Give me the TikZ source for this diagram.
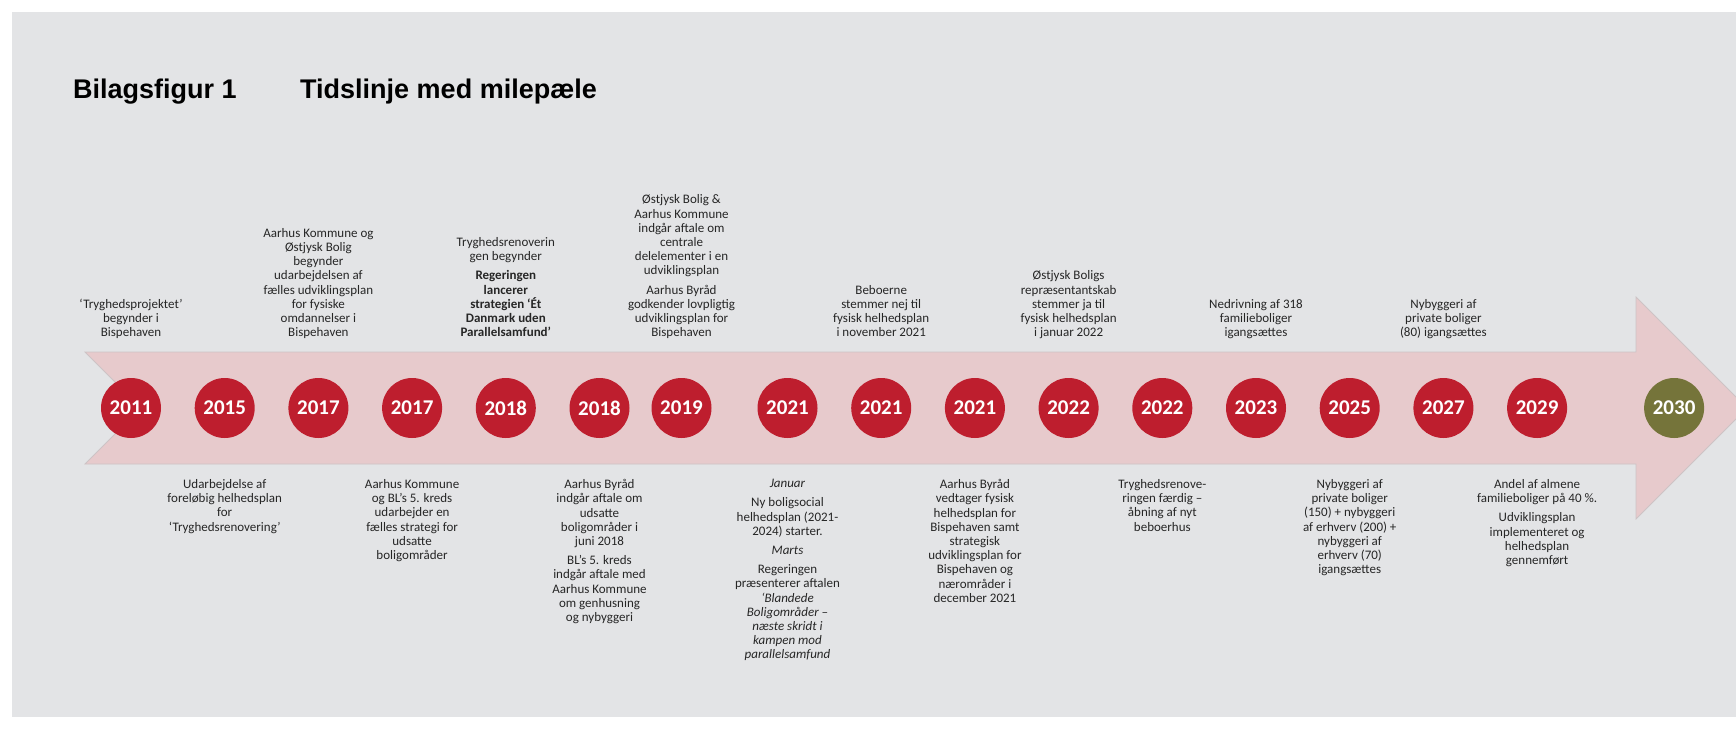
\documentclass[tikz,border=0pt]{standalone}
\usepackage{fontspec}
\setmainfont{Carlito}
\newfontfamily\titlefont{Liberation Sans}
\usetikzlibrary{shapes,arrows,positioning}
\definecolor{bggrey}{RGB}{227,228,230}
\definecolor{arrowpink}{RGB}{231,202,204}
\definecolor{arrowedge}{RGB}{205,195,197}
\definecolor{milered}{RGB}{190,30,46}
\definecolor{mileolive}{RGB}{117,116,58}
\definecolor{notegrey}{RGB}{38,38,38}
\tikzstyle{year} = [circle, fill=milered, text=white, minimum size=60pt,
    inner sep=0pt, font=\fontsize{21}{21}\selectfont\bfseries]
\tikzstyle{lastyear} = [year, fill=mileolive]
\tikzstyle{note} = [align=center, inner sep=0pt, text=notegrey,
    font=\fontsize{13}{14.2}\selectfont]
\tikzstyle{upnote} = [note, text depth=3pt]
\tikzstyle{figtitle} = [anchor=base west, inner sep=0pt, text=black,
    font=\titlefont\bfseries\fontsize{27}{27}\selectfont]

\begin{document}
\begin{tikzpicture}[x=1pt, y=-1pt, node distance=93.7pt]
    \useasboundingbox (0,0) rectangle (1736,728);
    \clip (0,0) rectangle (1736,728);
    \fill [bggrey] (12,12) rectangle (1736,717);

    \node [figtitle] (fig) at (73,98) {Bilagsfigur 1};
    \node [figtitle] (head) at (300,98) {Tidslinje med milepæle};

    % the time arrow
    \draw [fill=arrowpink, draw=arrowedge, line width=0.8pt] (85,352) -- (1636,352) -- (1636,297)
        -- (1747,408) -- (1636,519) -- (1636,464) -- (85,464) -- (141,408) -- cycle;

    \node [year] (y2011) at (131,408) {2011};
    \node [year, right of=y2011] (y2015) {2015};
    \node [year, right of=y2015] (y2017a) {2017};
    \node [year, right of=y2017a] (y2017b) {2017};
    \node [year, right of=y2017b] (y2018a) {2018};
    \node [year, right of=y2018a] (y2018b) {2018};
    \node [year, right of=y2018b, node distance=82pt] (y2019) {2019};
    \node [year, right of=y2019, node distance=106pt] (y2021a) {2021};
    \node [year, right of=y2021a] (y2021b) {2021};
    \node [year, right of=y2021b] (y2021c) {2021};
    \node [year, right of=y2021c] (y2022a) {2022};
    \node [year, right of=y2022a] (y2022b) {2022};
    \node [year, right of=y2022b] (y2023) {2023};
    \node [year, right of=y2023] (y2025) {2025};
    \node [year, right of=y2025] (y2027) {2027};
    \node [year, right of=y2027] (y2029) {2029};
    \node [lastyear, right of=y2029, node distance=137pt] (y2030) {2030};

    % notes above the arrow
    \node [upnote, above=38pt of y2011] (n2011) {‘Tryghedsprojektet’\\ begynder i\\ Bispehaven};
    \node [upnote, above=38pt of y2017a] (n2017a) {Aarhus Kommune og\\ Østjysk Bolig\\ begynder\\
        udarbejdelsen af\\ fælles udviklingsplan\\ for fysiske\\ omdannelser i\\ Bispehaven};
    \node [upnote, above=38pt of y2018a] (n2018a) {Tryghedsrenoverin\\ gen begynder\\[5pt]
        \textbf{Regeringen}\\ \textbf{lancerer}\\ \textbf{strategien ‘Ét}\\ \textbf{Danmark uden}\\
        \textbf{Parallelsamfund’}};
    \node [upnote, above=38pt of y2019] (n2019) {Østjysk Bolig \&\\ Aarhus Kommune\\ indgår aftale om\\
        centrale\\ delelementer i en\\ udviklingsplan\\[5pt] Aarhus Byråd\\ godkender lovpligtig\\
        udviklingsplan for\\ Bispehaven};
    \node [upnote, above=38pt of y2021b] (n2021b) {Beboerne\\ stemmer nej til\\ fysisk helhedsplan\\
        i november 2021};
    \node [upnote, above=38pt of y2022a] (n2022a) {Østjysk Boligs\\ repræsentantskab\\ stemmer ja til\\
        fysisk helhedsplan\\ i januar 2022};
    \node [upnote, above=38pt of y2023] (n2023) {Nedrivning af 318\\ familieboliger\\ igangsættes};
    \node [upnote, above=38pt of y2027] (n2027) {Nybyggeri af\\ private boliger\\ (80) igangsættes};

    % notes below the arrow
    \node [note, below=41pt of y2015] (n2015) {Udarbejdelse af\\ foreløbig helhedsplan\\ for\\
        ‘Tryghedsrenovering’};
    \node [note, below=41pt of y2017b] (n2017b) {Aarhus Kommune\\ og BL’s 5. kreds\\ udarbejder en\\
        fælles strategi for\\ udsatte\\ boligområder};
    \node [note, below=41pt of y2018b] (n2018b) {Aarhus Byråd\\ indgår aftale om\\ udsatte\\
        boligområder i\\ juni 2018\\[5pt] BL’s 5. kreds\\ indgår aftale med\\ Aarhus Kommune\\
        om genhusning\\ og nybyggeri};
    \node [note, below=41pt of y2021a] (n2021a) {\textit{Januar}\\[5pt] Ny boligsocial\\
        helhedsplan (2021-\\ 2024) starter.\\[5pt] \textit{Marts}\\[5pt] Regeringen\\
        præsenterer aftalen\\ \textit{‘Blandede}\\ \textit{Boligområder –}\\ \textit{næste skridt i}\\
        \textit{kampen mod}\\ \textit{parallelsamfund}};
    \node [note, below=41pt of y2021c] (n2021c) {Aarhus Byråd\\ vedtager fysisk\\ helhedsplan for\\
        Bispehaven samt\\ strategisk\\ udviklingsplan for\\ Bispehaven og\\ nærområder i\\
        december 2021};
    \node [note, below=41pt of y2022b] (n2022b) {Tryghedsrenove-\\ ringen færdig –\\ åbning af nyt\\
        beboerhus};
    \node [note, below=41pt of y2025] (n2025) {Nybyggeri af\\ private boliger\\ (150) + nybyggeri\\
        af erhverv (200) +\\ nybyggeri af\\ erhverv (70)\\ igangsættes};
    \node [note, below=41pt of y2029] (n2029) {Andel af almene\\ familieboliger på 40 \%.\\[5pt]
        Udviklingsplan\\ implementeret og\\ helhedsplan\\ gennemført};

\end{tikzpicture}
\end{document}
